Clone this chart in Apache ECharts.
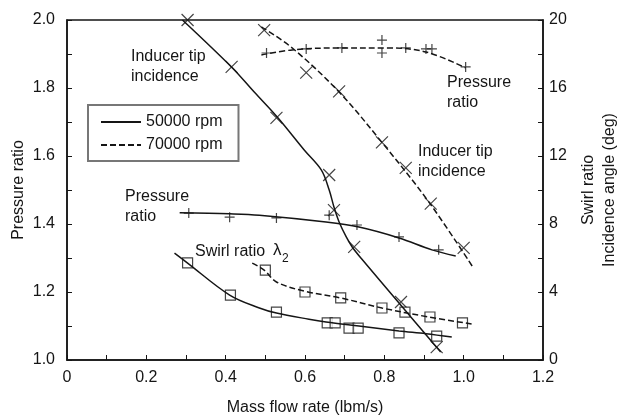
<!DOCTYPE html>
<html>
<head>
<meta charset="utf-8">
<script src="https://cdn.jsdelivr.net/npm/echarts@6/dist/echarts.min.js"></script>
<style>
  html, body { margin: 0; padding: 0; background: #fff; }
  #chart { width: 619px; height: 417px; }
</style>
</head>
<body>
<div id="chart"></div>
<script>
var xTicks = [0, 0.2, 0.4, 0.6, 0.8, 1.0, 1.2];

// pressure ratio (left axis)
var pr50Line = [[0.284, 1.433], [0.41, 1.43], [0.485, 1.426], [0.653, 1.406], [0.736, 1.391], [0.837, 1.359], [0.92, 1.324], [0.98, 1.306]];
var pr50Pts = [[0.307, 1.432], [0.41, 1.42], [0.528, 1.418], [0.661, 1.426], [0.731, 1.397], [0.837, 1.362], [0.937, 1.324]];
var pr70Line = [[0.49, 1.897], [0.568, 1.912], [0.686, 1.918], [0.804, 1.918], [0.905, 1.906], [1.005, 1.859]];
var pr70Pts = [[0.503, 1.903], [0.603, 1.915], [0.693, 1.918], [0.794, 1.941], [0.794, 1.903], [0.854, 1.918], [0.905, 1.915], [0.92, 1.915], [1.005, 1.862]];

// inducer tip incidence (right axis, deg)
var inc50Line = [[0.291, 20], [0.417, 17.18], [0.472, 15.76], [0.53, 14.29], [0.598, 12.35], [0.641, 11.18], [0.661, 10.0], [0.673, 9.0], [0.686, 8.12], [0.704, 7.24], [0.719, 6.65], [0.741, 6.0], [0.837, 3.35], [0.942, 0.47]];
var inc50Pts = [[0.304, 20], [0.415, 17.24], [0.528, 14.24], [0.661, 10.88], [0.673, 8.82], [0.724, 6.65], [0.842, 3.41], [0.932, 0.76]];
var inc70Line = [[0.49, 19.6], [0.568, 18.35], [0.686, 15.76], [0.794, 12.8], [0.912, 9.3], [1.025, 5.4]];
var inc70Pts = [[0.497, 19.4], [0.603, 16.9], [0.686, 15.8], [0.794, 12.8], [0.854, 11.3], [0.917, 9.2], [1.0, 6.6]];

// swirl ratio (right axis)
var sw50Line = [[0.271, 6.29], [0.304, 5.7], [0.41, 3.82], [0.485, 3.06], [0.528, 2.76], [0.61, 2.4], [0.653, 2.24], [0.736, 2.0], [0.837, 1.71], [0.905, 1.55], [0.97, 1.35]];
var sw50Pts = [[0.304, 5.71], [0.412, 3.82], [0.528, 2.82], [0.656, 2.18], [0.676, 2.18], [0.711, 1.88], [0.734, 1.88], [0.837, 1.59], [0.932, 1.41]];
var sw70Line = [[0.467, 5.7], [0.497, 5.29], [0.528, 4.59], [0.598, 4.05], [0.69, 3.65], [0.794, 3.06], [0.912, 2.53], [1.02, 2.12]];
var sw70Pts = [[0.5, 5.29], [0.6, 4.0], [0.69, 3.65], [0.794, 3.06], [0.852, 2.82], [0.915, 2.53], [0.997, 2.18]];

var ink = '#151515';
var font = 'Liberation Sans, Arial, sans-serif';
var crossSym = 'path://M0,0L10,10M10,0L0,10';
var plusSym = 'path://M5,0L5,10M0,5L10,5';

function curve(name, data, yIdx, dashed) {
  return {
    name: name, type: 'line', data: data, yAxisIndex: yIdx,
    smooth: 0.35, symbol: 'none', silent: true,
    lineStyle: { color: ink, width: 1.5, type: dashed ? [6, 3] : 'solid' },
    itemStyle: { color: ink }
  };
}
function marks(data, yIdx, sym, size) {
  return {
    type: 'scatter', data: data, yAxisIndex: yIdx, symbol: sym, symbolSize: size, silent: true,
    itemStyle: { color: sym === 'rect' ? '#fff' : 'none', borderColor: ink, borderWidth: 1.2 }
  };
}

var chart = echarts.init(document.getElementById('chart'));
chart.setOption({
  animation: false,
  backgroundColor: '#fff',
  textStyle: { fontFamily: font, color: ink },
  grid: { left: 67, right: 76, top: 20, bottom: 57, show: true, borderColor: ink, borderWidth: 1.5, outerBoundsMode: 'none' },
  legend: {
    data: ['50000 rpm', '70000 rpm'],
    orient: 'vertical', left: 88, top: 105,
    padding: [9, 16, 8, 12], itemGap: 7, itemWidth: 40, itemHeight: 14,
    borderColor: '#777', borderWidth: 2, selectedMode: false,
    itemStyle: { color: 'rgba(0,0,0,0)', borderColor: 'rgba(0,0,0,0)', borderWidth: 0, opacity: 0 },
    textStyle: { fontSize: 16, color: ink, fontFamily: font }
  },
  xAxis: {
    type: 'value', min: 0, max: 1.2, interval: 0.2,
    name: 'Mass flow rate (lbm/s)', nameLocation: 'middle', nameGap: 40, nameMoveOverlap: false,
    nameTextStyle: { fontSize: 16, color: ink },
    axisLine: { lineStyle: { color: ink, width: 1.5 } },
    axisTick: { inside: true, length: 5, lineStyle: { color: ink } },
    minorTick: { show: true, splitNumber: 2, length: 5, lineStyle: { color: ink } },
    axisLabel: { fontSize: 16, color: ink, margin: 10,
      formatter: function (v) { return v === 0 ? '0' : v.toFixed(1); } },
    splitLine: { show: false }
  },
  yAxis: [{
    type: 'value', min: 1.0, max: 2.0, interval: 0.2,
    name: 'Pressure ratio', nameLocation: 'middle', nameGap: 40, nameRotate: 90, nameMoveOverlap: false,
    nameTextStyle: { fontSize: 16, color: ink },
    axisLine: { show: true, lineStyle: { color: ink, width: 1.5 } },
    axisTick: { inside: true, length: 5, lineStyle: { color: ink } },
    minorTick: { show: true, splitNumber: 2, length: 5, lineStyle: { color: ink } },
    axisLabel: { fontSize: 16, color: ink, margin: 12, formatter: function (v) { return v.toFixed(1); } },
    splitLine: { show: false }
  }, {
    type: 'value', min: 0, max: 20, interval: 4, position: 'right',
    name: 'Swirl ratio\nIncidence angle (deg)', nameLocation: 'middle', nameGap: 35, nameRotate: 90, nameMoveOverlap: false,
    nameTextStyle: { fontSize: 16, color: ink, lineHeight: 21 },
    axisLine: { show: true, lineStyle: { color: ink, width: 1.5 } },
    axisTick: { inside: true, length: 5, lineStyle: { color: ink } },
    minorTick: { show: true, splitNumber: 2, length: 5, lineStyle: { color: ink } },
    axisLabel: { fontSize: 16, color: ink, margin: 6 },
    splitLine: { show: false }
  }],
  graphic: [
    { type: 'text', x: 131, y: 47, style: { text: 'Inducer tip\nincidence', font: '16px ' + font, fill: ink, lineHeight: 20, textVerticalAlign: 'top' } },
    { type: 'text', x: 447, y: 73, style: { text: 'Pressure\nratio', font: '16px ' + font, fill: ink, lineHeight: 20, textVerticalAlign: 'top' } },
    { type: 'text', x: 418, y: 142, style: { text: 'Inducer tip\nincidence', font: '16px ' + font, fill: ink, lineHeight: 20, textVerticalAlign: 'top' } },
    { type: 'text', x: 125, y: 187, style: { text: 'Pressure\nratio', font: '16px ' + font, fill: ink, lineHeight: 20, textVerticalAlign: 'top' } },
    { type: 'text', x: 195, y: 252, style: { text: 'Swirl ratio', font: '16px ' + font, fill: ink, textVerticalAlign: 'middle' } },
    { type: 'text', x: 273, y: 250, style: { text: 'λ', font: '17px ' + font, fill: ink, textVerticalAlign: 'middle' } },
    { type: 'text', x: 282, y: 259, style: { text: '2', font: '12px ' + font, fill: ink, textVerticalAlign: 'middle' } }
  ],
  series: [
    curve('50000 rpm', pr50Line, 0, false),
    curve('70000 rpm', pr70Line, 0, true),
    curve('50000 rpm', inc50Line, 1, false),
    curve('70000 rpm', inc70Line, 1, true),
    curve('50000 rpm', sw50Line, 1, false),
    curve('70000 rpm', sw70Line, 1, true),
    marks(pr50Pts, 0, plusSym, 10),
    marks(pr70Pts, 0, plusSym, 10),
    marks(inc50Pts, 1, crossSym, 12),
    marks(inc70Pts, 1, crossSym, 12),
    marks(sw50Pts, 1, 'rect', 10),
    marks(sw70Pts, 1, 'rect', 10)
  ]
});
</script>
</body>
</html>
